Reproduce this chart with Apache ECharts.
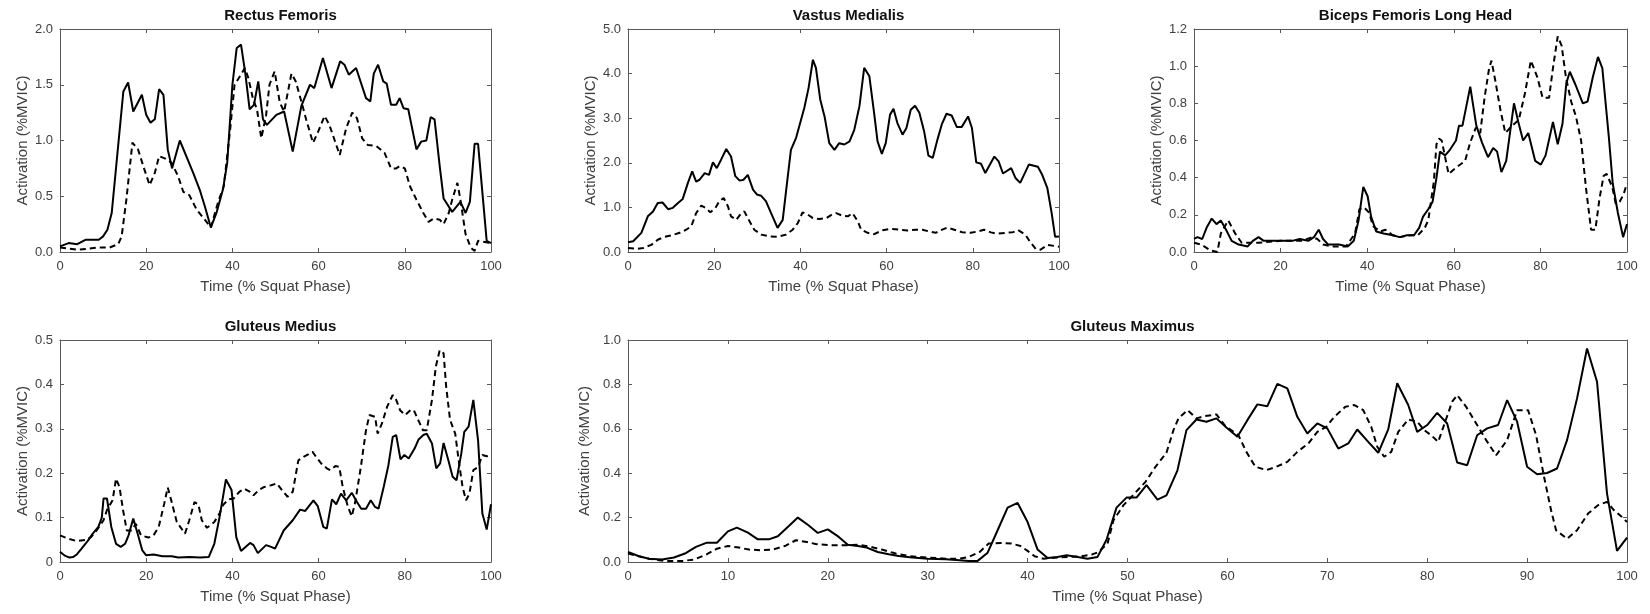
<!DOCTYPE html>
<html>
<head>
    <meta charset="utf-8">
    <script src="https://cdn.jsdelivr.net/npm/echarts/dist/echarts.min.js"></script>
    <style>
        body { margin: 0; background: #fff; }
    </style>
</head>
<body>
<div id="chart" style="width:1650px;height:614px"></div>
<script>
    // [time %, activation]; solid and dashed traces per muscle
    var rfSolid = [[0,0.05],[2,0.08],[4,0.07],[6,0.11],[9,0.11],[10,0.14],[11,0.2],[12,0.35],[14.7,1.44],[15.8,1.52],[17,1.26],[19,1.41],[20,1.23],[21,1.16],[22,1.19],[23,1.46],[24,1.41],[25,0.92],[26,0.75],[27.8,1.0],[29.3,0.86],[30.9,0.71],[32.4,0.56],[33.6,0.41],[35,0.22],[36.3,0.35],[37.8,0.56],[38.8,0.8],[40,1.5],[41,1.83],[42,1.86],[43,1.6],[44,1.28],[45,1.32],[46,1.53],[47.1,1.19],[48,1.14],[50.2,1.23],[52,1.26],[54,0.9],[56,1.31],[58,1.5],[59,1.47],[61,1.74],[63,1.47],[65,1.71],[66,1.68],[67,1.59],[68.7,1.65],[71,1.38],[72,1.35],[72.8,1.6],[73.8,1.68],[75,1.53],[75.8,1.51],[76.8,1.32],[78,1.32],[78.8,1.38],[79.7,1.29],[80.8,1.28],[82.7,0.92],[83.8,0.99],[85,1.0],[86,1.21],[86.9,1.19],[88.1,0.77],[89,0.48],[91,0.36],[92.9,0.45],[94.1,0.35],[95.1,0.45],[96.2,0.97],[97,0.97],[99,0.1],[100,0.08]];
    var rfDash = [[0,0.04],[4,0.02],[9,0.04],[11.5,0.04],[13.5,0.07],[14.3,0.14],[15.4,0.47],[16.8,0.98],[18.1,0.92],[19.5,0.75],[20.8,0.6],[22,0.71],[23,0.86],[24.3,0.84],[25.9,0.8],[27.4,0.68],[28.6,0.54],[30,0.51],[31.7,0.38],[33.6,0.29],[35,0.22],[36.7,0.45],[38,0.59],[39.4,1.07],[40.5,1.5],[41.5,1.56],[42.9,1.65],[43.7,1.56],[44.8,1.37],[45.7,1.28],[46.7,1.02],[47.8,1.22],[48.6,1.5],[49.8,1.62],[51,1.34],[52,1.26],[53.7,1.6],[54.7,1.53],[56,1.35],[57.1,1.19],[58.7,0.98],[59.8,1.07],[61.4,1.22],[62.5,1.14],[64.9,0.87],[66.4,1.11],[67.8,1.25],[68.9,1.2],[70.1,1.02],[71.4,0.96],[73.4,0.95],[75.3,0.89],[76.8,0.75],[78,0.75],[78.8,0.77],[80,0.75],[81.2,0.59],[82.7,0.47],[84.3,0.35],[85.5,0.27],[86.7,0.3],[88.1,0.29],[89,0.25],[90.2,0.35],[91,0.47],[92.2,0.62],[92.9,0.47],[94.1,0.16],[95.3,0.04],[96.2,0.01],[97,0.1],[100,0.08]];

    var vmSolid = [[0,0.22],[1.2,0.24],[3.1,0.43],[4.6,0.8],[5.8,0.91],[6.9,1.1],[8,1.11],[9.3,0.96],[10.4,0.99],[11.6,1.1],[12.7,1.19],[13.9,1.55],[14.9,1.81],[15.8,1.58],[16.6,1.62],[17.8,1.77],[18.8,1.73],[19.7,2.01],[20.6,1.88],[21.6,2.07],[22.8,2.31],[23.9,2.14],[24.9,1.7],[25.9,1.6],[26.8,1.62],[27.8,1.73],[29,1.4],[29.9,1.29],[30.9,1.26],[32,1.14],[33.2,0.87],[34.7,0.54],[35.9,0.72],[36.8,1.47],[37.8,2.29],[39,2.56],[40.9,3.23],[41.9,3.68],[42.9,4.31],[43.6,4.13],[44.6,3.42],[45.6,3.04],[46.7,2.44],[47.9,2.29],[49,2.44],[50.2,2.41],[51.4,2.48],[52.5,2.74],[53.7,3.27],[54.8,4.13],[56,3.94],[57.1,3.12],[57.9,2.48],[58.9,2.2],[59.8,2.44],[60.8,3.08],[61.6,3.21],[62.5,2.89],[63.7,2.63],[64.6,2.78],[65.6,3.19],[66.6,3.28],[67.6,3.12],[68.7,2.71],[69.7,2.16],[70.7,2.11],[71.8,2.52],[72.8,2.86],[73.9,3.1],[75.1,3.06],[76.3,2.8],[77.4,2.8],[78.9,3.04],[79.8,2.78],[80.8,2.01],[81.9,1.98],[82.9,1.77],[85,2.14],[86,2.03],[87,1.76],[88.9,1.88],[89.9,1.66],[91,1.55],[93,1.96],[95.1,1.91],[96.1,1.73],[97.3,1.43],[98.3,0.87],[99.1,0.34],[100,0.35]];
    var vmDash = [[0,0.09],[2,0.07],[3.5,0.09],[5.4,0.16],[7,0.28],[8.5,0.34],[10,0.37],[12,0.43],[13.5,0.5],[14.7,0.58],[15.8,0.87],[17,1.04],[18,0.99],[19.1,0.89],[20.3,0.99],[21.2,1.14],[22.2,1.21],[23.2,1.02],[23.9,0.8],[25.1,0.72],[26.3,0.87],[27,0.91],[28.2,0.69],[29.3,0.5],[30.9,0.39],[32.8,0.35],[34.7,0.34],[36.7,0.39],[38.2,0.5],[39.4,0.65],[40.5,0.89],[41.7,0.84],[42.9,0.76],[44.4,0.74],[46,0.76],[47.3,0.84],[48.3,0.87],[49.8,0.81],[51,0.8],[52.1,0.87],[53.3,0.69],[54.1,0.5],[55.6,0.43],[57.1,0.4],[59.1,0.49],[61,0.52],[62.9,0.5],[64.9,0.48],[66.8,0.5],[68.3,0.5],[69.9,0.46],[71.4,0.43],[72.6,0.49],[74.1,0.55],[75.7,0.5],[77.6,0.44],[79.5,0.43],[81.1,0.46],[82.6,0.5],[84.2,0.44],[85.7,0.41],[87.6,0.43],[89.2,0.44],[90.5,0.49],[92.2,0.39],[93.2,0.24],[94.6,0.07],[95.7,0.05],[97.3,0.16],[100,0.12]];

    var bfSolid = [[0,0.07],[0.8,0.08],[1.9,0.07],[2.9,0.13],[4.1,0.18],[5.2,0.15],[6.2,0.17],[7.4,0.12],[8.7,0.06],[10.3,0.04],[12.4,0.03],[13.6,0.06],[14.9,0.08],[16.1,0.06],[17.8,0.06],[20,0.06],[22.7,0.06],[24.4,0.07],[26.4,0.06],[27.7,0.08],[28.8,0.12],[29.8,0.07],[31,0.04],[33.5,0.04],[35.5,0.03],[36.9,0.06],[38,0.17],[39.1,0.35],[40.1,0.3],[40.9,0.19],[42.1,0.11],[43.8,0.1],[45.9,0.09],[47.5,0.08],[49.2,0.09],[50.8,0.09],[52,0.13],[52.9,0.19],[54.1,0.23],[55.1,0.27],[56,0.4],[56.8,0.54],[58,0.52],[59.1,0.55],[60.5,0.6],[61.2,0.68],[62,0.68],[63.8,0.89],[65.2,0.68],[66.5,0.59],[67.9,0.51],[69.1,0.56],[70,0.54],[71,0.43],[72.1,0.49],[73.9,0.8],[74.9,0.7],[76,0.6],[77.2,0.64],[78.8,0.49],[80.1,0.47],[81.2,0.52],[82.9,0.7],[84,0.58],[85.1,0.69],[86,0.91],[86.8,0.97],[88.1,0.9],[89.8,0.8],[90.9,0.81],[92.1,0.94],[93.3,1.05],[94.3,0.99],[95.8,0.62],[96.7,0.37],[97.9,0.21],[99.1,0.08],[100,0.15]];
    var bfDash = [[0,0.05],[1.7,0.04],[3.7,0.01],[5.4,0.0],[6.2,0.1],[7.9,0.17],[9.5,0.1],[11,0.05],[14.9,0.05],[20,0.06],[25,0.06],[27.3,0.08],[28.5,0.07],[29.8,0.04],[31.8,0.03],[35.1,0.03],[37.2,0.1],[38.2,0.23],[39.3,0.24],[40.5,0.21],[41.3,0.14],[43,0.11],[44.2,0.12],[45.9,0.09],[47.5,0.08],[50,0.09],[51.7,0.09],[53.3,0.13],[54.1,0.17],[55.4,0.38],[56,0.58],[56.6,0.61],[57.2,0.6],[58.8,0.42],[60.3,0.45],[62.6,0.49],[63.8,0.59],[65.1,0.67],[66.1,0.64],[67.1,0.83],[68.1,0.98],[68.7,1.03],[69.6,0.92],[70.8,0.76],[71.9,0.64],[73.5,0.68],[75,0.71],[76.4,0.85],[77.8,1.03],[79.3,0.94],[80.5,0.83],[82,0.83],[82.9,0.99],[84,1.16],[84.9,1.11],[85.9,0.94],[87.1,0.81],[88.2,0.73],[89.4,0.6],[90.5,0.35],[91.7,0.12],[92.7,0.12],[93.6,0.28],[94.6,0.41],[95.3,0.42],[96.6,0.35],[97.4,0.26],[98.3,0.27],[99.2,0.31],[100,0.37]];

    var gmedSolid = [[0,0.023],[1,0.015],[2.2,0.01],[3,0.011],[3.9,0.017],[5,0.03],[6.4,0.047],[7.6,0.064],[8.9,0.079],[9.7,0.1],[10.1,0.143],[10.9,0.143],[11.9,0.079],[13,0.041],[14.1,0.034],[15.1,0.041],[15.9,0.06],[17,0.098],[18,0.064],[19.1,0.026],[20,0.015],[21.7,0.017],[23.8,0.013],[25.9,0.013],[27.5,0.01],[30,0.011],[32.5,0.01],[34.5,0.011],[35.8,0.041],[37,0.1],[38.5,0.186],[39.8,0.162],[40.9,0.056],[42,0.025],[44.1,0.043],[44.9,0.038],[45.9,0.02],[47.8,0.038],[49,0.034],[49.9,0.03],[51.9,0.071],[54,0.094],[55.7,0.118],[56.9,0.115],[58.8,0.139],[59.8,0.126],[61.1,0.079],[61.9,0.075],[63.1,0.141],[64.1,0.13],[65.2,0.154],[66.4,0.139],[67.7,0.156],[68.9,0.135],[69.9,0.12],[71,0.12],[72.1,0.139],[73.1,0.124],[73.9,0.12],[75.1,0.169],[76.2,0.218],[77.2,0.282],[78,0.286],[79,0.231],[79.9,0.241],[80.9,0.233],[82.3,0.256],[83.2,0.276],[84.3,0.286],[85.1,0.289],[86.3,0.267],[87.3,0.211],[88.2,0.222],[89,0.268],[90.1,0.229],[91.1,0.192],[92,0.184],[93.1,0.244],[93.8,0.293],[94.8,0.305],[95.9,0.365],[97,0.274],[98,0.109],[99,0.073],[100,0.13]];
    var gmedDash = [[0,0.06],[1.8,0.053],[3.9,0.047],[6,0.05],[7.2,0.056],[8.5,0.071],[10.1,0.094],[10.9,0.117],[12.2,0.139],[13,0.188],[13.8,0.169],[14.7,0.113],[15.5,0.071],[16.6,0.071],[17.6,0.086],[18.8,0.06],[20.5,0.055],[21.7,0.06],[22.9,0.079],[24.2,0.132],[25,0.168],[25.8,0.139],[27.1,0.09],[27.9,0.079],[29,0.064],[30,0.094],[31.2,0.135],[32.1,0.13],[32.9,0.094],[34.1,0.077],[35.8,0.09],[37,0.109],[37.8,0.128],[39.1,0.141],[40.3,0.143],[41.6,0.158],[42.8,0.165],[44.1,0.158],[44.9,0.15],[46.1,0.162],[47.4,0.169],[49,0.173],[50.3,0.177],[51.5,0.162],[52.8,0.147],[54,0.158],[55.3,0.229],[56.5,0.237],[57.7,0.243],[58.6,0.248],[59.4,0.237],[60.6,0.222],[61.9,0.211],[62.7,0.207],[63.9,0.216],[64.8,0.214],[65.6,0.169],[66.8,0.124],[67.7,0.103],[68.5,0.135],[69.8,0.214],[71,0.297],[71.8,0.331],[73.1,0.327],[73.7,0.289],[74.7,0.312],[75.9,0.35],[77.2,0.376],[78,0.365],[78.9,0.342],[80.1,0.331],[81.3,0.342],[82.1,0.342],[83.1,0.32],[84.2,0.297],[85.1,0.297],[86.3,0.365],[87.2,0.44],[88.1,0.477],[89,0.47],[89.6,0.395],[90.5,0.32],[91.7,0.289],[92.5,0.229],[93.4,0.169],[94.2,0.139],[95,0.154],[95.9,0.207],[97,0.214],[98,0.241],[99,0.238],[100,0.244]];

    var gmaxSolid = [[0,0.045],[1.1,0.026],[2.1,0.015],[3.4,0.011],[4.6,0.02],[5.7,0.038],[6.8,0.068],[7.9,0.087],[8.9,0.087],[10,0.138],[10.9,0.155],[12,0.132],[13,0.102],[14.1,0.102],[15,0.116],[16.1,0.162],[17,0.2],[18,0.168],[19,0.131],[20,0.147],[21.1,0.113],[22,0.078],[23,0.072],[23.9,0.065],[25,0.045],[26.1,0.035],[27.1,0.027],[28.2,0.021],[30,0.015],[31.8,0.012],[33.2,0.008],[34.1,0.005],[35,0.005],[36,0.042],[37,0.143],[38,0.245],[39,0.266],[40,0.18],[41,0.056],[42,0.018],[43,0.023],[43.9,0.03],[45,0.023],[46,0.015],[47,0.023],[47.9,0.1],[48.9,0.245],[49.9,0.29],[50.9,0.29],[51.9,0.346],[53,0.281],[53.9,0.3],[55,0.413],[55.9,0.594],[56.9,0.642],[57.9,0.632],[58.9,0.647],[59.9,0.606],[61,0.564],[62,0.639],[63,0.71],[64,0.702],[65,0.802],[66,0.782],[67,0.654],[68,0.579],[69,0.624],[70,0.602],[71.1,0.511],[72.1,0.534],[73,0.597],[74.1,0.541],[75.1,0.492],[76.1,0.597],[77,0.805],[78.1,0.707],[79,0.586],[80,0.617],[81,0.672],[82,0.624],[83,0.448],[84,0.436],[85,0.571],[86,0.602],[87.1,0.617],[88,0.729],[89,0.632],[90,0.429],[91,0.395],[92,0.401],[93,0.421],[94,0.549],[95,0.737],[96,0.962],[97,0.812],[98,0.308],[99,0.05],[100,0.11]];
    var gmaxDash = [[0,0.038],[2.1,0.015],[3.6,0.005],[5.5,0.005],[6.6,0.011],[7.9,0.035],[8.9,0.06],[10,0.072],[11.1,0.065],[12.1,0.056],[13.4,0.053],[14.6,0.057],[15.7,0.072],[16.8,0.098],[17.9,0.09],[18.9,0.08],[20.4,0.075],[21.8,0.075],[23,0.078],[24.3,0.068],[25.4,0.056],[26.8,0.038],[28.2,0.026],[30,0.02],[31.8,0.015],[33.2,0.015],[34.1,0.023],[35.2,0.045],[36.1,0.083],[37.3,0.086],[38.4,0.083],[39.3,0.072],[40,0.05],[40.7,0.026],[41.6,0.015],[43,0.02],[44.3,0.023],[45.4,0.026],[46.4,0.033],[47.1,0.045],[48,0.083],[48.6,0.188],[49.6,0.256],[50.7,0.308],[51.8,0.361],[52.8,0.429],[53.9,0.492],[54.6,0.594],[55.1,0.647],[56,0.684],[56.9,0.647],[57.7,0.657],[58.9,0.665],[59.8,0.612],[61.1,0.571],[61.9,0.496],[62.8,0.429],[63.9,0.414],[64.9,0.429],[66,0.451],[67,0.496],[68.1,0.534],[69,0.586],[69.9,0.609],[70.7,0.654],[71.8,0.699],[72.7,0.707],[73.6,0.684],[74.4,0.609],[75,0.519],[75.7,0.474],[76.4,0.496],[77.1,0.586],[78.1,0.642],[79,0.632],[79.7,0.594],[80.4,0.571],[81.1,0.541],[81.8,0.632],[82.5,0.722],[83,0.752],[83.9,0.699],[84.8,0.632],[85.9,0.549],[86.9,0.481],[88,0.549],[89,0.684],[90.1,0.684],[90.9,0.571],[91.7,0.383],[92.4,0.233],[92.9,0.143],[94,0.105],[95,0.143],[96.1,0.218],[97.1,0.256],[98,0.271],[98.7,0.233],[99.5,0.203],[100,0.18]];

    var titles = ['Rectus Femoris', 'Vastus Medialis', 'Biceps Femoris Long Head', 'Gluteus Medius', 'Gluteus Maximus'];
    var yMax = [2, 5, 1.2, 0.5, 1];
    var yStep = [0.5, 1, 0.2, 0.1, 0.2];
    var xStep = [20, 20, 20, 20, 10];
    var solidData = [rfSolid, vmSolid, bfSolid, gmedSolid, gmaxSolid];
    var dashData = [rfDash, vmDash, bfDash, gmedDash, gmaxDash];

    // subplot boxes in px
    var boxes = [
        {left: 60, top: 29, width: 431, height: 223},
        {left: 628, top: 29, width: 431, height: 223},
        {left: 1194, top: 29, width: 433, height: 223},
        {left: 60, top: 340, width: 431, height: 222},
        {left: 628, top: 340, width: 999, height: 222}
    ];

    var FONT = 'Liberation Sans';
    var AXIS_COLOR = '#595959';
    var TEXT_COLOR = '#404040';

    function merge(target, src) {
        for (var k in src) {
            var v = src[k];
            if (v && typeof v === 'object' && !Array.isArray(v)) {
                target[k] = merge(target[k] && typeof target[k] === 'object' ? target[k] : {}, v);
            } else {
                target[k] = v;
            }
        }
        return target;
    }

    function axisBase(i, max, step) {
        return {
            gridIndex: i, type: 'value', min: 0, max: max, interval: step,
            axisLine: {show: true, onZero: false, lineStyle: {color: AXIS_COLOR, width: 1}},
            axisTick: {show: true, inside: true, length: 4, lineStyle: {color: AXIS_COLOR}},
            splitLine: {show: false}
        };
    }

    var grids = [], xAxes = [], yAxes = [], series = [], titleList = [];

    for (var i = 0; i < 5; i++) {
        var b = boxes[i];
        grids.push({left: b.left, top: b.top, width: b.width, height: b.height});

        titleList.push({
            text: titles[i],
            left: b.left + b.width / 2,
            top: b.top - 25.5,
            textAlign: 'center',
            textStyle: {fontFamily: FONT, fontSize: 15, fontWeight: 'bold', color: '#111'}
        });

        xAxes.push(merge(axisBase(i, 100, xStep[i]), {
            position: 'bottom',
            axisLabel: {color: TEXT_COLOR, fontFamily: FONT, fontSize: 13, margin: 8},
            name: 'Time (% Squat Phase)', nameLocation: 'middle', nameGap: 27,
            nameTextStyle: {color: TEXT_COLOR, fontFamily: FONT, fontSize: 15}
        }));
        xAxes.push(merge(axisBase(i, 100, xStep[i]), {position: 'top', axisLabel: {show: false}}));

        var fmt = (i === 3) ? function (v) { return v === 0 ? '0' : v.toFixed(1); }
                            : function (v) { return v.toFixed(1); };
        yAxes.push(merge(axisBase(i, yMax[i], yStep[i]), {
            position: 'left',
            axisLabel: {color: TEXT_COLOR, fontFamily: FONT, fontSize: 13, margin: 7, formatter: fmt},
            name: 'Activation (%MVIC)', nameLocation: 'middle', nameGap: 30,
            nameTextStyle: {color: TEXT_COLOR, fontFamily: FONT, fontSize: 15}
        }));
        yAxes.push(merge(axisBase(i, yMax[i], yStep[i]), {position: 'right', axisLabel: {show: false}}));

        series.push({
            type: 'line', xAxisIndex: 2 * i, yAxisIndex: 2 * i,
            data: dashData[i], showSymbol: false, clip: true,
            lineStyle: {color: '#000', width: 2, type: [6, 4]}
        });
        series.push({
            type: 'line', xAxisIndex: 2 * i, yAxisIndex: 2 * i,
            data: solidData[i], showSymbol: false, clip: true,
            lineStyle: {color: '#000', width: 2, type: 'solid'}
        });
    }

    var myChart = echarts.init(document.getElementById('chart'));
    myChart.setOption({
        animation: false,
        backgroundColor: '#fff',
        title: titleList,
        grid: grids,
        xAxis: xAxes,
        yAxis: yAxes,
        series: series
    });
</script>
</body>
</html>
